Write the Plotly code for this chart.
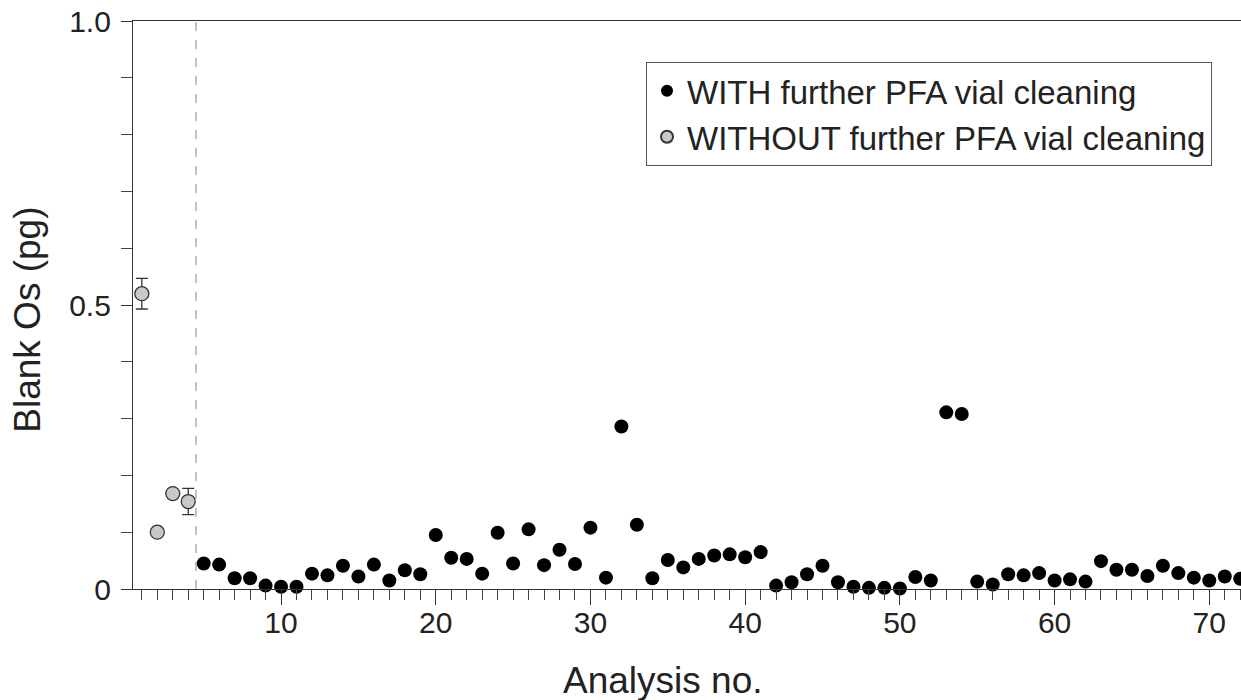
import plotly.graph_objects as go

# ---- data ----
without_x = [1, 2, 3, 4]
without_y = [0.52, 0.10, 0.168, 0.154]
without_err = [0.027, 0.0, 0.006, 0.023]

with_x = list(range(5, 73))
with_y = [0.045, 0.043, 0.019, 0.019, 0.006, 0.004, 0.004, 0.027, 0.024, 0.041,
          0.022, 0.043, 0.015, 0.033, 0.026, 0.095, 0.055, 0.053, 0.027, 0.099,
          0.045, 0.105, 0.042, 0.069, 0.044, 0.108, 0.020, 0.286, 0.113, 0.019,
          0.051, 0.038, 0.053, 0.059, 0.061, 0.056, 0.065, 0.006, 0.012, 0.026,
          0.041, 0.012, 0.004, 0.002, 0.002, 0.001, 0.021, 0.015, 0.311, 0.308,
          0.013, 0.008, 0.026, 0.024, 0.028, 0.015, 0.017, 0.013, 0.049, 0.034,
          0.034, 0.023, 0.041, 0.028, 0.020, 0.015, 0.022, 0.018]

divider_x = 4.5
x_ticks = [10, 20, 30, 40, 50, 60, 70]
y_ticks = [0, 0.5, 1.0]
y_ticklabels = ["0", "0.5", "1.0"]

FONT = "Liberation Sans, Arial, sans-serif"
AXIS_COLOR = "#333333"
TEXT_COLOR = "#222222"

fig = go.Figure()

fig.add_trace(go.Scatter(
    x=with_x, y=with_y, mode="markers",
    name="WITH further PFA vial cleaning",
    marker=dict(size=14, color="black", line=dict(width=0)),
    cliponaxis=False,
))

fig.add_trace(go.Scatter(
    x=without_x, y=without_y, mode="markers",
    name="WITHOUT further PFA vial cleaning",
    marker=dict(size=14, color="#c8c8c8", line=dict(width=1.3, color="#333333")),
    error_y=dict(type="data", array=without_err, visible=True,
                 color="#333333", thickness=1.3, width=6),
    cliponaxis=False,
))

fig.add_shape(type="line", xref="x", yref="paper",
              x0=divider_x, x1=divider_x, y0=0, y1=1,
              line=dict(color="#999999", width=1.2, dash="dash"), layer="below")

fig.update_layout(
    width=1241, height=700,
    margin=dict(l=133, r=0, t=21, b=111),
    paper_bgcolor="white", plot_bgcolor="white",
    font=dict(family=FONT, color=TEXT_COLOR),
    showlegend=True,
    legend=dict(
        x=0.463, y=0.928, xanchor="left", yanchor="top",
        bordercolor="#555555", borderwidth=1, bgcolor="white",
        font=dict(size=33, family=FONT, color=TEXT_COLOR),
        itemsizing="constant",
    ),
    xaxis=dict(
        range=[0.43, 72.05], showgrid=False, zeroline=False,
        showline=True, linecolor=AXIS_COLOR, linewidth=1.2, mirror=True,
        tickmode="array", tickvals=x_ticks, ticks="outside", ticklen=15,
        tickwidth=1.2, tickcolor=AXIS_COLOR, ticklabelstandoff=-8,
        tickfont=dict(size=30, family=FONT, color=TEXT_COLOR),
        minor=dict(dtick=1, tick0=0, ticks="outside", ticklen=10,
                   tickwidth=1, tickcolor="#444444"),
    ),
    yaxis=dict(
        range=[0, 1.0], showgrid=False, zeroline=False,
        showline=True, linecolor=AXIS_COLOR, linewidth=1.2, mirror=False,
        tickmode="array", tickvals=y_ticks, ticktext=y_ticklabels,
        ticks="outside", ticklen=11, tickwidth=1.2, tickcolor=AXIS_COLOR,
        ticklabelstandoff=4,
        tickfont=dict(size=30, family=FONT, color=TEXT_COLOR),
        minor=dict(dtick=0.1, tick0=0, ticks="outside", ticklen=11,
                   tickwidth=1, tickcolor="#444444"),
    ),
    annotations=[
        dict(text="Analysis no.", xref="paper", yref="paper",
             x=0.478, y=-0.161, xanchor="center", yanchor="middle",
             showarrow=False, font=dict(size=37, family=FONT, color=TEXT_COLOR)),
        dict(text="Blank Os (pg)", xref="paper", yref="paper",
             x=-0.0948, y=0.474, xanchor="center", yanchor="middle",
             textangle=-90, showarrow=False,
             font=dict(size=37, family=FONT, color=TEXT_COLOR)),
    ],
)

fig.write_html(
    "out.html",
    config={"displayModeBar": False},
    post_script="document.body.style.margin='0';document.body.style.overflow='hidden';",
)
